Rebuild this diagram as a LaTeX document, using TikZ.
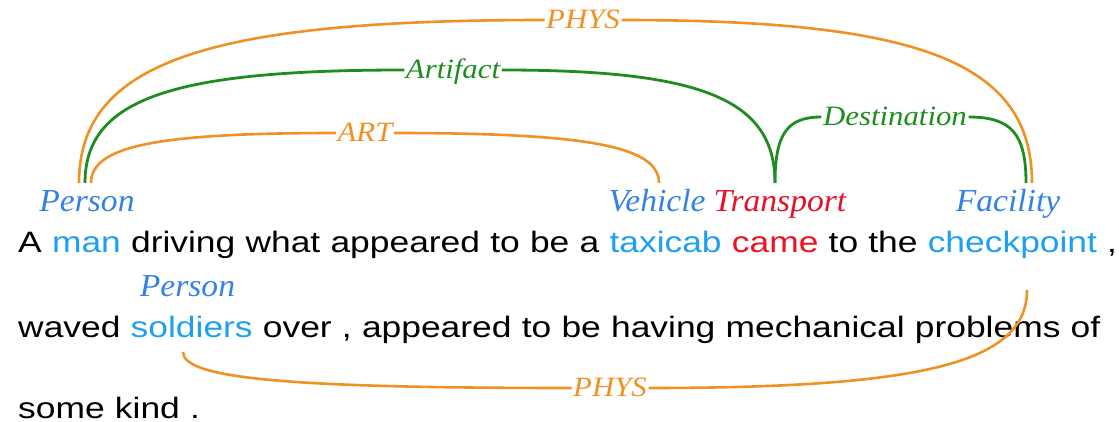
\documentclass[tikz,border=0pt]{standalone}
\usepackage{fontspec}
\newfontfamily\mf[FakeStretch=1.2]{Liberation Sans}
\newfontfamily\lf[FakeStretch=1.05]{Liberation Serif}
\newfontfamily\rf[FakeStretch=1.1]{Liberation Serif}
\definecolor{wblue}{RGB}{30,160,240}
\definecolor{lblue}{RGB}{50,130,230}
\definecolor{tred}{RGB}{232,16,40}
\definecolor{wred}{RGB}{240,16,30}
\definecolor{aor}{RGB}{240,145,35}
\definecolor{agr}{RGB}{30,140,30}
\begin{document}
\begin{tikzpicture}[x=1pt,y=-1pt,
  wd/.style={anchor=base west, inner sep=0pt, font=\mf\fontsize{29.5}{34}\selectfont, text=black},
  bw/.style={wd, text=wblue},
  rw/.style={wd, text=wred},
  ent/.style={anchor=base, inner sep=0pt, font=\lf\itshape\fontsize{32}{36}\selectfont, text=lblue},
  rel/.style={anchor=center, inner xsep=1.5pt, inner ysep=0pt, text height=17pt, text depth=0pt,
              font=\rf\itshape\fontsize{28}{32}\selectfont},
  oarc/.style={draw=aor, line width=2.6pt},
  garc/.style={draw=agr, line width=2.8pt},
  gp/.style={xshift=9.8pt}]
\useasboundingbox (0,0) rectangle (1119,422);
% line 1
\node[wd] (a1) at (18,252) {A};
\node[bw] (man) at ([gp]a1.base east) {man};
\node[wd] (a3) at ([gp]man.base east) {driving};
\node[wd] (a4) at ([gp]a3.base east) {what};
\node[wd] (a5) at ([gp]a4.base east) {appeared};
\node[wd] (a6) at ([gp]a5.base east) {to};
\node[wd] (a7) at ([gp]a6.base east) {be};
\node[wd] (a8) at ([gp]a7.base east) {a};
\node[bw] (taxi) at ([gp]a8.base east) {taxicab};
\node[rw] (came) at ([gp]taxi.base east) {came};
\node[wd] (a11) at ([gp]came.base east) {to};
\node[wd] (a12) at ([gp]a11.base east) {the};
\node[bw] (chk) at ([gp]a12.base east) {checkpoint};
\node[wd] (a14) at ([gp]chk.base east) {,};
% line 2
\node[wd] (b1) at (18,337) {waved};
\node[bw] (sold) at ([gp]b1.base east) {soldiers};
\node[wd] (b3) at ([gp]sold.base east) {over};
\node[wd] (b4) at ([gp]b3.base east) {,};
\node[wd] (b5) at ([gp]b4.base east) {appeared};
\node[wd] (b6) at ([gp]b5.base east) {to};
\node[wd] (b7) at ([gp]b6.base east) {be};
\node[wd] (b8) at ([gp]b7.base east) {having};
\node[wd] (b9) at ([gp]b8.base east) {mechanical};
\node[wd] (b10) at ([gp]b9.base east) {problems};
\node[wd] (b11) at ([gp]b10.base east) {of};
% line 3
\node[wd] (c1) at (18,418) {some};
\node[wd] (c2) at ([gp]c1.base east) {kind};
\node[wd] (c3) at ([gp]c2.base east) {.};
% entity labels
\node[ent] (per1) at (87,212) {Person};
\node[ent] (veh) at (657,212) {Vehicle};
\node[ent, text=tred] (trn) at (780,212) {Transport};
\node[ent] (fac) at (1008,212) {Facility};
\node[ent] (per2) at (187.5,296) {Person};
% leg coordinates
\coordinate (pO) at (79,183);
\coordinate (pG) at (85,183);
\coordinate (pA) at (91,183);
\coordinate (vA) at (659,183);
\coordinate (tG) at (775,183);
\coordinate (fG) at (1026,183);
\coordinate (fO) at (1032,183);
\coordinate (sO) at (183,352);
\coordinate (cO) at (1027,290);
% relation labels
\node[rel, text=aor] (phys1) at (583,20) {PHYS};
\node[rel, text=agr] (artf) at (453,70) {Artifact};
\node[rel, text=aor] (art) at (365,133) {ART};
\node[rel, text=agr] (dest) at (895,117) {Destination};
\node[rel, text=aor] (phys2) at (610,388) {PHYS};
% arcs
\draw[oarc] (pO) .. controls +(0,-122) and +(-334,0) .. (phys1.west);
\draw[oarc] (phys1.east) .. controls +(296,0) and +(0,-122) .. (fO);
\draw[garc] (pG) .. controls +(0,-85) and +(-230,0) .. (artf.west);
\draw[garc] (artf.east) .. controls +(197,0) and +(0,-85) .. (tG);
\draw[oarc] (pA) .. controls +(0,-37.5) and +(-177,0) .. (art.west);
\draw[oarc] (art.east) .. controls +(190,0) and +(0,-37.5) .. (vA);
\draw[garc] (tG) .. controls +(0,-49.5) and +(-34,0) .. (dest.west);
\draw[garc] (dest.east) .. controls +(42.5,0) and +(0,-49.5) .. (fG);
\draw[oarc] (sO) .. controls +(0,27) and +(-280,0) .. (phys2.west);
\draw[oarc] (phys2.east) .. controls +(272.5,0) and +(0,73.5) .. (cO);
\end{tikzpicture}
\end{document}
